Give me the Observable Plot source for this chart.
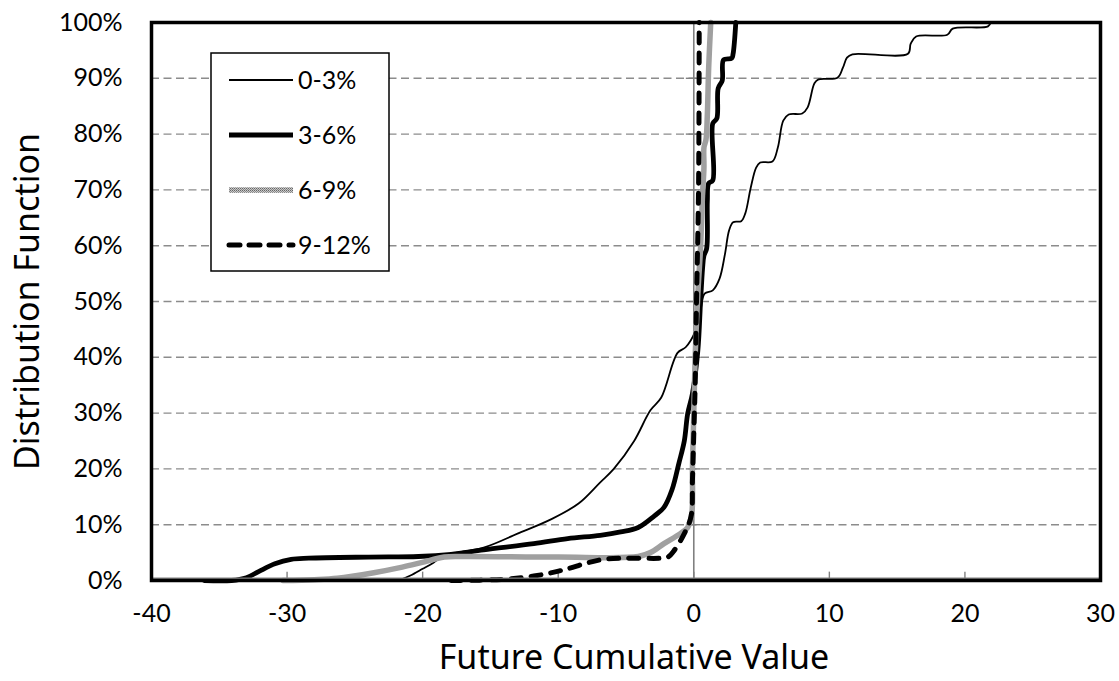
<!DOCTYPE html>
<html>
<head>
<meta charset="utf-8">
<script src="https://cdn.jsdelivr.net/npm/d3@7"></script>
<script src="https://cdn.jsdelivr.net/npm/@observablehq/plot@0.6"></script>
<style>
  html, body { margin: 0; padding: 0; background: #fff; }
  #chart { width: 1119px; height: 681px; }
</style>
</head>
<body>
<div id="chart"></div>
<script>
// ---- data ----
const seriesNames = ["0-3%", "3-6%", "6-9%", "9-12%"];
const xTicks = [-40, -30, -20, -10, 0, 10, 20, 30];
const yTicks = [0, 10, 20, 30, 40, 50, 60, 70, 80, 90, 100];
const xTitle = "Future Cumulative Value";
const yTitle = "Distribution Function";

// 0-3%
const x03 = [-21.8, -20.9, -20.0, -19.2, -18.4, -17.7, -15.5, -13.0, -10.5, -8.5, -6.9, -5.9, -4.4, -3.2, -2.4, -1.2, -0.6, 0.1, 0.5, 0.8, 1.4, 1.9, 2.3, 2.6, 2.9, 3.5, 3.8, 4.2, 4.6, 4.9, 5.8, 6.2, 6.6, 7.0, 8.0, 8.4, 8.9, 9.2, 10.6, 11.0, 11.3, 11.7, 15.8, 16.0, 16.4, 18.7, 19.1, 21.7, 21.9];
const y03 = [0, 0.9, 2.1, 3.2, 4.5, 4.9, 5.9, 8.4, 11.0, 13.8, 17.6, 20.0, 25.0, 30.5, 32.8, 40.8, 41.8, 44.6, 48.5, 51.4, 52.0, 54.1, 58.5, 62.7, 64.2, 64.4, 65.8, 70.4, 74.0, 74.9, 75.1, 77.6, 82.4, 83.5, 83.7, 84.8, 89.1, 89.8, 90.1, 91.9, 93.7, 94.3, 94.4, 96.2, 97.5, 97.8, 98.9, 99.3, 100];
// 3-6%
const x36 = [-36.1, -34.1, -33.0, -32.1, -30.9, -29.7, -28.4, -24.0, -20.3, -17.9, -15.5, -11.8, -9.3, -6.9, -5.4, -4.1, -2.9, -2.2, -1.6, -1.1, -0.7, -0.45, -0.1, 0.3, 0.5, 0.65, 0.75, 0.95, 1.0, 1.1, 1.4, 1.4, 1.7, 1.8, 2.1, 2.2, 2.8, 2.9, 3.1];
const y36 = [0, 0, 0.5, 1.6, 3.0, 3.8, 4.0, 4.2, 4.3, 4.7, 5.5, 6.6, 7.5, 8.1, 8.7, 9.5, 11.6, 13.1, 16.3, 21.0, 25.0, 29.9, 33.5, 41.2, 50.0, 56.0, 58.2, 59.5, 68.0, 71.2, 71.7, 81.9, 82.8, 88.2, 89.6, 93.3, 93.6, 94.4, 100];
// 6-9%
const x69 = [-30.3, -28.0, -26.3, -23.6, -21.5, -20.1, -18.4, -17.0, -10.0, -4.1, -3.2, -2.2, -1.0, -0.45, -0.15, -0.1, 0.0, 0.1, 0.3, 0.5, 0.65, 0.75, 0.75, 0.9, 1.0, 1.1, 1.25];
const y69 = [0, 0.15, 0.4, 1.4, 2.4, 3.2, 4.2, 4.3, 4.2, 4.3, 5.0, 6.6, 8.4, 9.5, 12.0, 20.3, 30.0, 40.0, 51.4, 59.7, 69.4, 74.0, 77.6, 79.0, 83.5, 92.0, 100];
// 9-12%
const x912 = [-17.9, -14.2, -11.8, -10.3, -9.3, -7.8, -6.6, -5.0, -2.4, -1.9, -1.5, -0.7, -0.2, -0.1, 0.0, 0.1, 0.2, 0.35, 0.4];
const y912 = [0, 0.2, 0.8, 1.5, 2.1, 3.2, 3.8, 4.0, 4.0, 4.2, 5.2, 8.4, 11.5, 17.9, 26.3, 35.0, 50.0, 70.0, 100];

const toRows = (xs, ys) => xs.map((x, i) => ({x, y: ys[i]}));
const d03 = toRows(x03, y03);
const d36 = toRows(x36, y36);
const d69 = toRows(x69, y69);
const d912 = toRows(x912, y912);

// ---- styles ----
const styles = [
  {stroke: "black", strokeWidth: 1.8},
  {stroke: "black", strokeWidth: 4.8},
  {stroke: "url(#grayTex)", strokeWidth: 5.5},
  {stroke: "black", strokeWidth: 5, strokeDasharray: "10,10", strokeLinecap: "round"}
];
const gridGray = "#8c8c8c";
const axisGray = "#808080";
const tickFont = 25;

const lineOpts = (s) => Object.assign({x: "x", y: "y", curve: "catmull-rom", strokeLinejoin: "round"}, s);

const svg = Plot.plot({
  width: 1119,
  height: 681,
  marginLeft: 151,
  marginRight: 19,
  marginTop: 22,
  marginBottom: 101,
  style: {fontFamily: "Lato, sans-serif", fontSize: tickFont + "px", color: "black", background: "white"},
  x: {domain: [-40, 30]},
  y: {domain: [0, 100]},
  marks: [
    Plot.ruleY(yTicks.filter(d => d > 0 && d < 100), {stroke: gridGray, strokeWidth: 1.4, strokeDasharray: "8,4.5"}),
    Plot.ruleX([0], {stroke: axisGray, strokeWidth: 1.6}),
    Plot.ruleY(yTicks, {x1: -0.55, x2: 0.55, stroke: axisGray, strokeWidth: 1.4}),
    Plot.ruleX(xTicks, {y1: 0, y2: 1.5, stroke: axisGray, strokeWidth: 1.4}),
    Plot.line(d03, lineOpts(styles[0])),
    Plot.line(d36, lineOpts(styles[1])),
    Plot.line(d69, lineOpts(styles[2])),
    Plot.line(d912, lineOpts(styles[3])),
    Plot.ruleY([0], {stroke: axisGray, strokeWidth: 2, dy: -2}),
    Plot.frame({stroke: "black", strokeWidth: 3.5}),
    Plot.axisX(xTicks, {tickSize: 0, tickPadding: 24, label: null, tickFormat: d => String(d), fontSize: tickFont}),
    Plot.axisY(yTicks, {tickSize: 0, tickPadding: 29, label: null, tickFormat: d => d + "%", fontSize: tickFont}),
    Plot.text([xTitle], {frameAnchor: "bottom", textAnchor: "middle", lineAnchor: "bottom", dy: 88, dx: 8, fontSize: 34, fontFamily: "Noto Sans", fill: "black"}),
    Plot.text([yTitle], {frameAnchor: "left", textAnchor: "middle", lineAnchor: "middle", rotate: -90, dx: -123, fontSize: 34, fontFamily: "Noto Sans", fill: "black"})
  ]
});

// texture pattern for the gray series
const root = d3.select(svg);
const defs = root.insert("defs", ":first-child");
const pat = defs.append("pattern").attr("id", "grayTex").attr("patternUnits", "userSpaceOnUse")
  .attr("width", 2).attr("height", 2);
pat.append("rect").attr("width", 2).attr("height", 2).attr("fill", "#c8c8c8");
pat.append("rect").attr("width", 1).attr("height", 1).attr("fill", "#666666");
pat.append("rect").attr("x", 1).attr("y", 1).attr("width", 1).attr("height", 1).attr("fill", "#888888");

// legend
const lg = root.append("g").attr("class", "legend").attr("text-anchor", "start");
lg.append("rect").attr("x", 211).attr("y", 53).attr("width", 178).attr("height", 218)
  .attr("fill", "white").attr("stroke", "black").attr("stroke-width", 1.5);
const rowY = [80, 135, 190, 245];
seriesNames.forEach((name, i) => {
  const s = styles[i];
  const ln = lg.append("line").attr("x1", 229).attr("x2", 293).attr("y1", rowY[i]).attr("y2", rowY[i])
    .attr("stroke", s.stroke).attr("stroke-width", s.strokeWidth);
  if (s.strokeDasharray) ln.attr("stroke-dasharray", "11,9").attr("stroke-linecap", "round");
  lg.append("text").attr("x", 298).attr("y", rowY[i]).attr("dy", "0.35em").attr("text-anchor", "start")
    .attr("font-family", "Lato, sans-serif").attr("font-size", tickFont).attr("fill", "black").text(name);
});

document.getElementById("chart").appendChild(svg);
</script>
</body>
</html>
